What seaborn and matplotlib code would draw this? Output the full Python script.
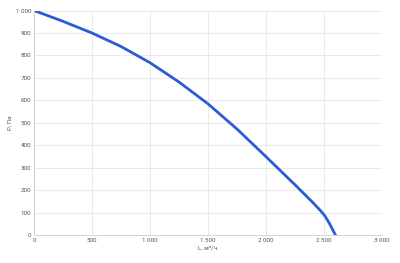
import matplotlib
matplotlib.use("Agg")
import matplotlib.pyplot as plt
import seaborn as sns
import pandas as pd
from matplotlib.ticker import FuncFormatter

flow = [0, 250, 500, 750, 1000, 1250, 1500, 1750, 2000, 2250, 2400, 2470, 2510, 2550, 2600]
pressure = [1000, 952, 900, 840, 768, 682, 585, 473, 350, 225, 148, 110, 85, 50, 0]

sns.set_theme(style="whitegrid")
plt.rcParams['font.family'] = ['Roboto', 'DejaVu Sans']

df = pd.DataFrame({"L": flow, "P": pressure})
fig, ax = plt.subplots(figsize=(4.0, 2.63), dpi=100)
fig.subplots_adjust(left=0.085, right=0.955, top=0.96, bottom=0.105)
sns.lineplot(data=df, x="L", y="P", ax=ax, color="#2b5bd8", linewidth=2.0)

ax.set_xlim(0, 3000)
ax.set_ylim(0, 1000)
ax.set_xticks([0, 500, 1000, 1500, 2000, 2500, 3000])
ax.set_yticks(range(0, 1001, 100))
fmt = FuncFormatter(lambda v, p: f"{int(v):,}".replace(",", " "))
ax.xaxis.set_major_formatter(fmt)
ax.yaxis.set_major_formatter(fmt)
ax.tick_params(labelsize=4.5, colors="#555555", length=0, pad=2)
ax.set_xlabel("L, м³/ч", fontsize=4.5, color="#555555", labelpad=2)
ax.set_ylabel("P, Па", fontsize=4.5, color="#555555", labelpad=2)
ax.grid(True, color="#e6e6e6", linewidth=0.6)
for s in ["top", "right"]:
    ax.spines[s].set_visible(False)
ax.spines["left"].set_color("#cccccc")
ax.spines["bottom"].set_color("#cccccc")
ax.spines["left"].set_linewidth(0.6)
ax.spines["bottom"].set_linewidth(0.6)
fig.savefig("out.png", dpi=100, facecolor="white")
